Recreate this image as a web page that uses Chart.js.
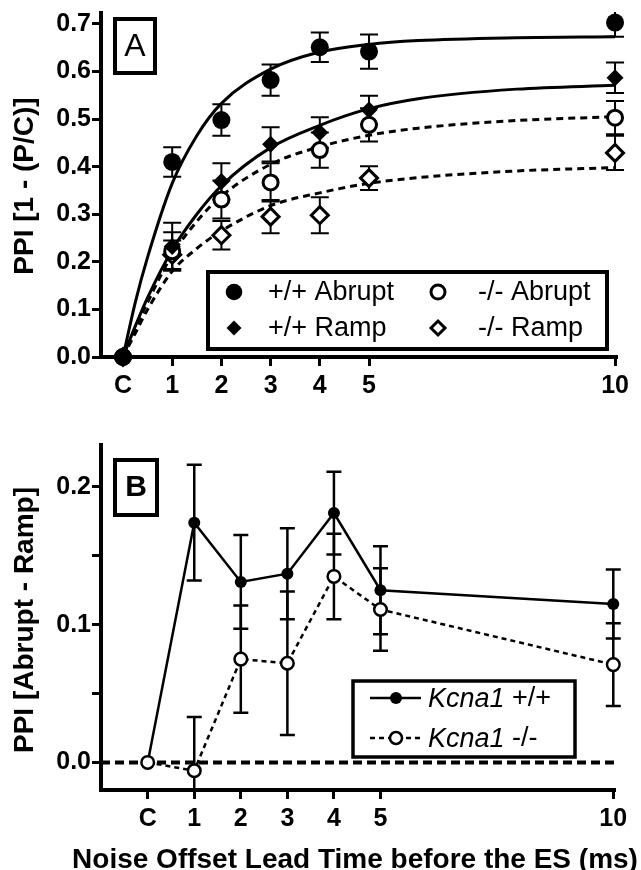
<!DOCTYPE html>
<html>
<head>
<meta charset="utf-8">
<script src="https://cdn.jsdelivr.net/npm/chart.js@4.4.0/dist/chart.umd.min.js"></script>
<style>
html, body { margin: 0; padding: 0; background: #fff; overflow: hidden; }
#wrapA { position: absolute; left: 0; top: 0; width: 641px; height: 420px; }
#wrapB { position: absolute; left: 0; top: 420px; width: 641px; height: 450px; }
</style>
</head>
<body>
<div id="wrapA"><canvas id="chartA"></canvas></div>
<div id="wrapB"><canvas id="chartB"></canvas></div>
<script>
// lead time categories (C = control, placed at 0)
var xValues = [0, 1, 2, 3, 4, 5, 10];
var xLabels = ['C', '1', '2', '3', '4', '5', '10'];

// panel A - PPI [1 - (P/C)]
var abruptWT    = [0, 0.410, 0.498, 0.582, 0.651, 0.642, 0.703];
var abruptWTErr = [0, 0.031, 0.033, 0.033, 0.031, 0.036, 0.030];
var rampWT      = [0, 0.232, 0.369, 0.447, 0.472, 0.519, 0.587];
var rampWTErr   = [0, 0.050, 0.038, 0.036, 0.032, 0.030, 0.032];
var abruptKO    = [0, 0.222, 0.331, 0.367, 0.435, 0.488, 0.503];
var abruptKOErr = [0, 0.040, 0.040, 0.040, 0.037, 0.035, 0.035];
var rampKO      = [0, 0.215, 0.256, 0.295, 0.298, 0.376, 0.429];
var rampKOErr   = [0, 0.030, 0.030, 0.035, 0.038, 0.025, 0.036];

// fitted curves
var fitX         = [0, 0.25, 0.5, 1, 1.5, 2, 3, 4, 5, 6, 8, 10];
var fitAbruptWT  = [0, 0.115, 0.210, 0.365, 0.465, 0.533, 0.605, 0.641, 0.657, 0.665, 0.671, 0.673];
var fitRampWT    = [0, 0.065, 0.125, 0.225, 0.300, 0.360, 0.440, 0.487, 0.522, 0.543, 0.563, 0.571];
var fitAbruptKO  = [0, 0.060, 0.115, 0.215, 0.285, 0.338, 0.405, 0.442, 0.466, 0.481, 0.497, 0.505];
var fitRampKO    = [0, 0.050, 0.100, 0.180, 0.228, 0.265, 0.318, 0.345, 0.365, 0.377, 0.391, 0.398];
var yTicksA = [0, 0.1, 0.2, 0.3, 0.4, 0.5, 0.6, 0.7];

// panel B - PPI [Abrupt - Ramp]
var diffWT    = [0, 0.174, 0.131, 0.137, 0.181, 0.125, 0.115];
var diffWTErr = [0, 0.042, 0.034, 0.033, 0.030, 0.032, 0.025];
var diffKO    = [0, -0.006, 0.075, 0.072, 0.135, 0.111, 0.071];
var diffKOErr = [0, 0.039, 0.039, 0.052, 0.031, 0.030, 0.030];
var yTicksB = [0, 0.05, 0.1, 0.15, 0.2];
var zeroLine = 0;

var FONT = "'Liberation Sans', Arial, Helvetica, sans-serif";
Chart.defaults.font.family = FONT;
Chart.defaults.color = '#000';

function pts(xs, ys) {
  return xs.map(function (x, i) { return { x: x, y: ys[i] }; });
}

var errorBars = {
  id: 'errorBars',
  beforeDatasetsDraw: function (chart) {
    var ctx = chart.ctx, a = chart.chartArea;
    var xs = chart.scales.x, ys = chart.scales.y;
    ctx.save();
    ctx.beginPath();
    ctx.rect(a.left, a.top - 1, a.right - a.left + 10, a.bottom - a.top + 1);
    ctx.clip();
    ctx.strokeStyle = '#000';
    chart.data.datasets.forEach(function (ds) {
      if (!ds.errors) return;
      ctx.lineWidth = ds.errWidth;
      ds.data.forEach(function (p, j) {
        var e = ds.errors[j];
        if (!e) return;
        var x = xs.getPixelForValue(p.x);
        var yt = ys.getPixelForValue(p.y + e), yb = ys.getPixelForValue(p.y - e);
        ctx.beginPath();
        ctx.moveTo(x, yt); ctx.lineTo(x, yb);
        ctx.moveTo(x - ds.cap, yt); ctx.lineTo(x + ds.cap, yt);
        ctx.moveTo(x - ds.cap, yb); ctx.lineTo(x + ds.cap, yb);
        ctx.stroke();
      });
    });
    ctx.restore();
  }
};

function marker(ctx, style, r, fill, bw, x, y) {
  ctx.fillStyle = fill;
  ctx.strokeStyle = '#000';
  ctx.lineWidth = bw;
  Chart.helpers.drawPoint(ctx, { pointStyle: style, radius: r, rotation: 0, borderWidth: bw }, x, y);
}

function yTitle(ctx, text, x, y) {
  ctx.save();
  ctx.translate(x, y);
  ctx.rotate(-Math.PI / 2);
  ctx.font = 'bold 28px ' + FONT;
  ctx.fillStyle = '#000';
  ctx.textAlign = 'center';
  ctx.textBaseline = 'middle';
  ctx.fillText(text, 0, 0);
  ctx.restore();
}

var extrasA = {
  id: 'extrasA',
  afterDraw: function (chart) {
    var ctx = chart.ctx;
    ctx.save();
    // panel letter
    ctx.lineWidth = 4;
    ctx.strokeStyle = '#000';
    ctx.strokeRect(115, 19, 40, 54);
    ctx.fillStyle = '#000';
    ctx.font = '32px ' + FONT;
    ctx.textAlign = 'center';
    ctx.textBaseline = 'middle';
    ctx.fillText('A', 135, 47);
    // legend
    ctx.fillStyle = '#fff';
    ctx.fillRect(208, 272, 399, 77);
    ctx.strokeRect(208, 272, 399, 77);
    marker(ctx, 'circle', 8.3, '#000', 0, 234, 292);
    marker(ctx, 'rectRot', 7.5, '#000', 0, 234, 328);
    marker(ctx, 'circle', 7, '#fff', 3, 438, 292);
    marker(ctx, 'rectRot', 7, '#fff', 3, 438, 328);
    ctx.fillStyle = '#000';
    ctx.font = '27px ' + FONT;
    ctx.textAlign = 'left';
    ctx.fillText('+/+ Abrupt', 268, 293);
    ctx.fillText('+/+ Ramp', 268, 329);
    ctx.fillText('-/- Abrupt', 478, 293);
    ctx.fillText('-/- Ramp', 478, 329);
    ctx.restore();
    yTitle(ctx, 'PPI [1 - (P/C)]', 25, 186);
  }
};

var extrasB = {
  id: 'extrasB',
  beforeDatasetsDraw: function (chart) {
    var ctx = chart.ctx, a = chart.chartArea;
    var y = chart.scales.y.getPixelForValue(zeroLine);
    ctx.save();
    ctx.strokeStyle = '#000';
    ctx.lineWidth = 4;
    ctx.setLineDash([9, 5]);
    ctx.beginPath();
    ctx.moveTo(a.left, y);
    ctx.lineTo(a.right, y);
    ctx.stroke();
    ctx.restore();
  },
  afterDraw: function (chart) {
    var ctx = chart.ctx;
    ctx.save();
    ctx.lineWidth = 4;
    ctx.strokeStyle = '#000';
    ctx.strokeRect(115, 40, 42, 55);
    ctx.fillStyle = '#000';
    ctx.font = 'bold 30px ' + FONT;
    ctx.textAlign = 'center';
    ctx.textBaseline = 'middle';
    ctx.fillText('B', 136, 68);
    // legend
    ctx.fillStyle = '#fff';
    ctx.lineWidth = 3.5;
    ctx.fillRect(353, 261, 222, 76);
    ctx.strokeRect(353, 261, 222, 76);
    ctx.lineWidth = 2.5;
    ctx.beginPath(); ctx.moveTo(370, 278); ctx.lineTo(421, 278); ctx.stroke();
    ctx.setLineDash([5, 4]);
    ctx.beginPath(); ctx.moveTo(370, 318); ctx.lineTo(421, 318); ctx.stroke();
    ctx.setLineDash([]);
    marker(ctx, 'circle', 6, '#000', 0, 396, 278);
    marker(ctx, 'circle', 6, '#fff', 2.5, 396, 318);
    ctx.fillStyle = '#000';
    ctx.textAlign = 'left';
    ctx.textBaseline = 'middle';
    [['+/+', 279], ['-/-', 319]].forEach(function (row) {
      ctx.font = 'italic 27px ' + FONT;
      ctx.fillText('Kcna1', 428, row[1]);
      var w = ctx.measureText('Kcna1 ').width;
      ctx.font = '27px ' + FONT;
      ctx.fillText(row[0], 428 + w, row[1]);
    });
    // x axis title
    ctx.font = 'bold 28px ' + FONT;
    ctx.textAlign = 'center';
    ctx.fillText('Noise Offset Lead Time before the ES (ms)', 355, 440);
    ctx.restore();
    yTitle(ctx, 'PPI [Abrupt - Ramp]', 25, 200);
  }
};

var gridOpts = { display: true, drawOnChartArea: false, drawTicks: true, tickLength: 9, tickWidth: 3, tickColor: '#000' };
var borderOpts = { display: true, width: 4, color: '#000' };

function xAxis(min, max, h) {
  return {
    type: 'linear', min: min, max: max,
    afterBuildTicks: function (s) { s.ticks = xValues.map(function (v) { return { value: v }; }); },
    afterFit: function (s) { s.height = h; s.paddingLeft = 0; s.paddingRight = 0; },
    ticks: {
      font: { size: 25, weight: 'bold' }, color: '#000', padding: 5, maxRotation: 0, autoSkip: false,
      callback: function (v, i) { return xLabels[i]; }
    },
    grid: gridOpts, border: borderOpts
  };
}

function yAxis(min, max, list, fmt) {
  return {
    min: min, max: max,
    afterBuildTicks: function (s) { s.ticks = list.map(function (v) { return { value: v }; }); },
    afterFit: function (s) { s.width = 101; s.paddingTop = 0; s.paddingBottom = 0; },
    ticks: { font: { size: 25, weight: 'bold' }, color: '#000', padding: 1, autoSkip: false, callback: fmt },
    grid: gridOpts, border: borderOpts
  };
}

function scatterSet(xs, ys, errs, style, r, fill, bw, cap) {
  return {
    data: pts(xs, ys), errors: errs, errWidth: 2, cap: cap,
    pointStyle: style, pointRadius: r, pointHoverRadius: r,
    pointBackgroundColor: fill, pointBorderColor: '#000', pointBorderWidth: bw,
    clip: false
  };
}

function fitSet(ys, dash) {
  return {
    data: pts(fitX, ys), showLine: true, pointRadius: 0, pointHoverRadius: 0,
    borderColor: '#000', borderWidth: 3, borderDash: dash,
    cubicInterpolationMode: 'monotone', fill: false, clip: false
  };
}

new Chart(document.getElementById('chartA'), {
  type: 'scatter',
  data: {
    datasets: [
      scatterSet(xValues, abruptWT, abruptWTErr, 'circle', 9, '#000', 0, 9),
      scatterSet(xValues, rampWT, rampWTErr, 'rectRot', 8.5, '#000', 0, 9),
      scatterSet(xValues, abruptKO, abruptKOErr, 'circle', 7.5, '#fff', 3, 9),
      scatterSet(xValues, rampKO, rampKOErr, 'rectRot', 8.5, '#fff', 3, 9),
      fitSet(fitAbruptWT, []),
      fitSet(fitRampWT, []),
      fitSet(fitAbruptKO, [7, 5]),
      fitSet(fitRampKO, [7, 5])
    ]
  },
  options: {
    responsive: true, maintainAspectRatio: false, animation: false, events: [],
    layout: { padding: { left: 0, right: 24, top: 13, bottom: 0 } },
    scales: {
      x: xAxis(-0.447, 10.04, 63),
      y: yAxis(0, 0.723, yTicksA, function (v) { return v.toFixed(1); })
    },
    plugins: { legend: { display: false }, tooltip: { enabled: false } }
  },
  plugins: [errorBars, extrasA]
});

new Chart(document.getElementById('chartB'), {
  type: 'scatter',
  data: {
    datasets: [
      {
        data: pts(xValues, diffKO), errors: diffKOErr, errWidth: 2.5, cap: 7.5,
        showLine: true, borderColor: '#000', borderWidth: 2.5, borderDash: [5, 4],
        pointStyle: 'circle', pointRadius: 6.3, pointHoverRadius: 6.3,
        pointBackgroundColor: '#fff', pointBorderColor: '#000', pointBorderWidth: 2.5, clip: false
      },
      {
        data: pts(xValues, diffWT), errors: diffWTErr, errWidth: 2.5, cap: 7.5,
        showLine: true, borderColor: '#000', borderWidth: 2.5,
        pointStyle: 'circle', pointRadius: 6, pointHoverRadius: 6,
        pointBackgroundColor: '#000', pointBorderColor: '#000', pointBorderWidth: 0, clip: false
      }
    ]
  },
  options: {
    responsive: true, maintainAspectRatio: false, animation: false, events: [],
    layout: { padding: { left: 0, right: 26, top: 25, bottom: 0 } },
    scales: {
      x: xAxis(-1.003, 10.037, 80),
      y: yAxis(-0.02, 0.2304, yTicksB, function (v) {
        return (Math.abs(v * 10 - Math.round(v * 10)) < 1e-6) ? v.toFixed(1) : '';
      })
    },
    plugins: { legend: { display: false }, tooltip: { enabled: false } }
  },
  plugins: [errorBars, extrasB]
});
</script>
</body>
</html>
